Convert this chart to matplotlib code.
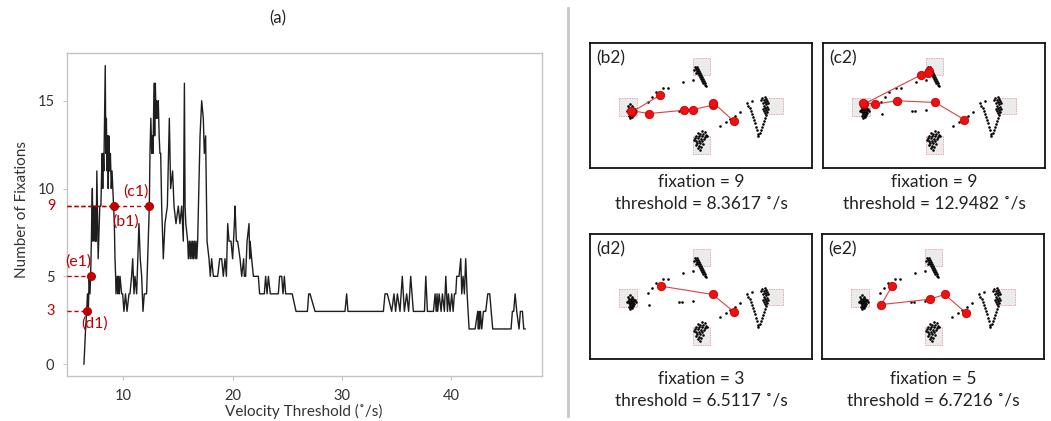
import matplotlib
matplotlib.use('Agg')
import matplotlib.pyplot as plt
from matplotlib.patches import Rectangle
from matplotlib.transforms import blended_transform_factory

plt.rcParams['font.family'] = ['Lato', 'DejaVu Sans']

# ---------------- data: main curve ----------------
threshold = [6.40, 6.55, 6.65, 6.72, 6.80, 6.88, 6.95, 7.01, 7.08, 7.13, 7.17, 7.22, 7.27, 7.32,
             7.37, 7.42, 7.47, 7.52, 7.58, 7.70, 7.85, 7.95, 8.02, 8.07, 8.12, 8.17, 8.22, 8.28,
             8.35, 8.40, 8.45, 8.52, 8.57, 8.62, 8.68, 8.75, 8.82, 8.90, 8.97, 9.04, 9.12, 9.18,
             9.24, 9.30, 9.33, 9.45, 9.50, 9.55, 9.64, 9.70, 9.85, 9.94, 10.06, 10.20, 10.34,
             10.52, 10.61, 10.76, 10.86, 10.98, 11.07, 11.22, 11.43, 11.55, 11.68, 11.80, 11.92,
             12.13, 12.38, 12.44, 12.52, 12.60, 12.66, 12.72, 12.81, 12.87, 12.93, 13.00, 13.05,
             13.12, 13.20, 13.28, 13.35, 13.42, 13.51, 13.66, 13.81, 14.03, 14.21, 14.33, 14.51,
             14.64, 14.82, 15.03, 15.18, 15.34, 15.49, 15.59, 15.65, 15.72, 15.89, 15.95, 16.05,
             16.12, 16.20, 16.28, 16.35, 16.42, 16.50, 16.58, 16.65, 16.72, 16.80, 17.02, 17.17,
             17.32, 17.41, 17.53, 17.66, 17.84, 17.96, 18.08, 18.24, 18.63, 18.82, 19.00, 19.15,
             19.30, 19.43, 19.55, 19.67, 19.85, 20.00, 20.16, 20.22, 20.34, 20.46, 20.68, 20.83,
             21.01, 21.07, 21.19, 21.32, 21.50, 21.56, 21.60, 21.74, 21.90, 22.35, 22.47, 22.90,
             23.02, 23.15, 23.27, 23.45, 24.18, 24.30, 24.49, 24.61, 24.73, 24.85, 25.45, 25.80,
             26.84, 26.96, 27.08, 27.54, 30.28, 30.43, 30.55, 33.79, 33.94, 34.15, 34.55, 34.76,
             34.91, 35.07, 35.31, 35.52, 35.71, 35.92, 36.10, 36.29, 36.53, 37.55, 37.67, 37.82,
             38.37, 38.52, 38.62, 38.70, 38.76, 38.89, 39.07, 39.19, 39.37, 39.50, 39.65, 39.74,
             39.89, 40.04, 40.17, 40.29, 40.41, 40.50, 40.71, 40.87, 40.96, 41.08, 41.20, 41.32,
             41.45, 41.63, 42.18, 42.42, 42.48, 42.54, 42.60, 42.67, 42.79, 42.94, 43.15, 43.34,
             43.52, 43.79, 45.47, 45.59, 45.71, 45.84, 45.99, 46.20, 46.32, 46.51, 46.63, 46.75]
fixation_count = [0, 2, 3, 4, 3, 5, 4, 5, 7, 9, 10, 7, 9, 8,
                  9, 7, 9, 7, 11, 6, 9, 9, 11, 12, 10, 12, 11, 14,
                  17, 12, 14, 11, 13, 10, 13, 11, 12, 10, 11, 10, 9, 8,
                  6, 5, 4, 5, 4, 5, 4, 5, 4, 4, 3, 4, 3,
                  4, 4, 5, 6, 4, 5, 4, 8, 6, 5, 3, 4,
                  4, 9, 12, 14, 12, 13, 12, 16, 13, 16, 14, 15,
                  14, 15, 13, 12, 12, 9, 6, 8, 9, 14, 10, 11,
                  9, 8, 9, 8, 9, 7, 16, 9, 8, 7, 6, 7,
                  6, 7, 6, 7, 6, 7, 6, 7, 6, 7, 13, 15,
                  14, 12, 13, 7, 6, 5, 6, 5, 5, 6, 6, 5,
                  6, 5, 8, 7, 7, 6, 8, 9, 7, 7, 6, 5,
                  6, 5, 5, 7, 8, 6, 7, 6, 5, 5, 4, 4,
                  5, 4, 5, 4, 4, 5, 5, 4, 5, 4, 4, 3,
                  3, 4, 4, 3, 3, 4, 3, 3, 4, 4, 3, 4,
                  3, 4, 3, 5, 3, 4, 3, 5, 3, 3, 5, 3,
                  3, 4, 3, 4, 3, 4, 3, 4, 3, 5, 3, 4,
                  3, 4, 3, 4, 4, 5, 5, 6, 4, 5, 4, 6,
                  4, 2, 2, 3, 2, 3, 2, 3, 2, 3, 3, 4,
                  4, 2, 2, 3, 3, 4, 3, 2, 3, 3, 2, 2]

# highlighted thresholds (as placed in the picture)
mark_names = ['(b1)', '(c1)', '(d1)', '(e1)']
mark_threshold = [9.12, 12.38, 6.65, 7.02]
mark_fixations = [9, 9, 3, 5]

yticks = [0, 5, 10, 15]
xticks = [10, 20, 30, 40]

# ---------------- data: scan-path panels ----------------
panel_names = ['(b2)', '(c2)', '(d2)', '(e2)']
panel_fix = [9, 9, 3, 5]
panel_thr = ['8.3617', '12.9482', '6.5117', '6.7216']

# areas of interest (panel units, y downward)
aoi_x = [29.3, 103.3, 175.7, 103.3]
aoi_y = [54.3, 15.0, 54.3, 92.7]
aoi_w = [17.4, 16.7, 17.6, 16.7]
aoi_h = [18.4, 16.7, 15.7, 17.3]

# raw gaze samples (panel units)
gaze_x = [38, 40, 42, 39, 41, 43, 45, 38, 40, 42, 44, 39, 41, 43, 40, 42, 44, 39, 41, 43, 37, 46, 40, 42,
          105, 107, 106, 108, 107, 109, 108, 110, 109, 111, 110, 112, 111, 113, 112, 114, 113, 115,
          115, 116, 104, 106, 103,
          112, 115, 108, 110, 113, 116, 106, 109, 112, 115, 105, 108, 111, 114, 106, 109, 112, 107,
          110, 113, 106, 109, 111, 108, 110, 117, 104,
          175, 176, 174, 177, 175, 176, 174, 177, 175, 176, 174, 177, 175, 176, 172, 171, 178, 178,
          173, 173,
          158, 160, 161, 162, 163, 164, 165, 166, 167, 168, 168, 175, 174, 173, 172, 171, 170, 157, 162,
          58, 62, 66, 73, 78, 93, 59, 89, 92, 103, 130, 136, 140, 145, 150]
gaze_y = [62, 61, 62, 64, 64, 64, 65, 66, 66, 66, 66, 68, 68, 68, 70, 70, 69, 72, 72, 71, 67, 67, 74, 73,
          24, 24, 26, 26, 28, 28, 30, 30, 32, 32, 34, 34, 36, 36, 38, 38, 40, 40,
          42, 43, 27, 30, 37,
          87, 88, 89, 90, 90, 91, 92, 92, 92, 93, 94, 94, 95, 95, 97, 97, 97, 99,
          99, 100, 101, 102, 103, 104, 106, 92, 96,
          54, 56, 57, 58, 59, 61, 62, 63, 64, 66, 67, 68, 69, 71, 55, 57, 60, 65,
          60, 65,
          62, 64, 67, 70, 73, 76, 79, 83, 86, 90, 92, 74, 77, 80, 83, 86, 89, 60, 58,
          59, 54, 49, 45, 45, 39, 70, 67, 67, 66, 82, 78, 75, 72, 68]

# fixation scan paths (panel units)
path_x = [[70, 42.3, 41, 59, 94, 102.7, 122.7, 123.3, 144],
          [105.5, 104.7, 98, 40.7, 40, 52, 74, 112.3, 141.3],
          [70.7, 122.7, 144],
          [70, 59.3, 107.7, 122.7, 143.7]]
path_y = [[51.7, 68.3, 67, 70, 66.7, 66, 61.7, 59.3, 77.7],
          [28, 29.5, 31.7, 60.7, 59.3, 60.7, 57.3, 59, 76],
          [51.7, 60, 77.3],
          [51.7, 70, 64.7, 60, 78]]

RED = '#c00000'
GRID_GRAY = '#c4c4c4'
TXT = '#333333'

W, H = 1051, 421
fig = plt.figure(figsize=(W / 100, H / 100), dpi=100)

def fx(px):
    return px / W

def fy(py):
    return 1 - py / H

# ---------------- left chart ----------------
ax = fig.add_axes([fx(67), fy(376), fx(542 - 67), (376 - 53) / H])
ax.plot(threshold, fixation_count, color='#1e1e1e', lw=1.0, zorder=3)
ax.set_xlim(4.85, 48.3)
ax.set_ylim(-0.68, 17.72)
for s in ax.spines.values():
    s.set_color(GRID_GRAY)
    s.set_linewidth(1.0)
ax.set_yticks(yticks)
ax.set_xticks(xticks)
ax.tick_params(axis='both', colors=GRID_GRAY, length=3, width=0.8, labelcolor=TXT, labelsize=10.5)
ax.tick_params(axis='y', pad=6)
ax.tick_params(axis='x', pad=6)

trans = blended_transform_factory(ax.transAxes, ax.transData)
for name, tx, fyv in zip(mark_names, mark_threshold, mark_fixations):
    ax.plot([4.85, tx], [fyv, fyv], color=RED, lw=1.0, ls=(0, (3, 2)), zorder=4, clip_on=False)
    ax.plot([tx], [fyv], 'o', color=RED, ms=5.5, zorder=5)
for v in sorted(set(mark_fixations)):
    if v not in yticks:
        ax.text(-0.025, v, str(v), transform=trans, color=RED, ha='right', va='center',
                fontsize=10.5)

ax.text(10.25, 8.1, '(b1)', color=RED, ha='center', va='center', fontsize=11.5)
ax.text(11.2, 9.8, '(c1)', color=RED, ha='center', va='center', fontsize=11.5)
ax.text(7.4, 2.3, '(d1)', color=RED, ha='center', va='center', fontsize=11.5)
ax.text(5.85, 5.85, '(e1)', color=RED, ha='center', va='center', fontsize=11.5, clip_on=False)

fig.text(fx(22), fy(210), 'Number of Fixations', rotation=90, ha='center', va='center',
         fontsize=11, color=TXT)
fig.text(fx(304), fy(411), 'Velocity Threshold (˚/s)', ha='center', va='center',
         fontsize=11, color=TXT)
fig.text(fx(278), fy(18), '(a)', ha='center', va='center', fontsize=12, color='#222222')

# divider
fig.add_artist(plt.Line2D([fx(568), fx(568)], [fy(8), fy(416)], color='#c8c8c8', lw=2,
                          transform=fig.transFigure))

# ---------------- right panels ----------------
boxes = [(590, 43), (823, 43), (590, 234), (822, 234)]
pw, ph = 222, 125
text_y = [(182, 203), (182, 203), (379, 401), (379, 401)]
for i in range(4):
    x0, y0 = boxes[i]
    pax = fig.add_axes([fx(x0), fy(y0 + ph), pw / W, ph / H])
    pax.set_xlim(0, 222)
    pax.set_ylim(124, 0)
    pax.set_xticks([])
    pax.set_yticks([])
    for s in pax.spines.values():
        s.set_color('#111111')
        s.set_linewidth(1.3)
    for ax0, ay0, aw, ah in zip(aoi_x, aoi_y, aoi_w, aoi_h):
        pax.add_patch(Rectangle((ax0, ay0), aw, ah, facecolor='#ebebeb', edgecolor='#e8a8a8',
                                lw=0.7, ls=(0, (1.5, 1)), zorder=1))
    pax.scatter(gaze_x, gaze_y, s=3.5, color='black', lw=0, zorder=2)
    pax.plot(path_x[i], path_y[i], color='#e04040', lw=0.8, zorder=3)
    pax.plot(path_x[i], path_y[i], 'o', ls='none', ms=6, mfc='#ee1111', mec='#cc0000',
             mew=0.6, zorder=4)
    pax.text(6, 7, panel_names[i], ha='left', va='top', fontsize=12.5, color='#222222')
    cx = x0 + pw / 2
    fig.text(fx(cx), fy(text_y[i][0]), f'fixation = {panel_fix[i]}', ha='center', va='center',
             fontsize=12.5, color='#222222')
    fig.text(fx(cx), fy(text_y[i][1]), f'threshold = {panel_thr[i]} ˚/s', ha='center',
             va='center', fontsize=12.5, color='#222222')

fig.savefig('out.png', dpi=100)
